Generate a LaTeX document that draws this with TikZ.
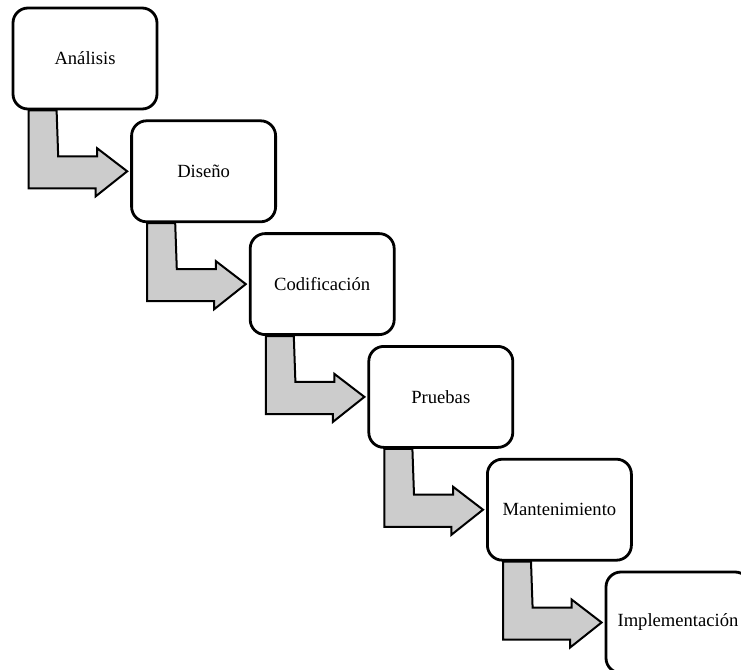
\documentclass[tikz,border=0pt]{standalone}
\usepackage{fontspec}
\setmainfont{Liberation Serif}
\usetikzlibrary{calc}
\begin{document}
\begin{tikzpicture}[x=0.5pt,y=-0.5pt,
    fase/.style={draw, line width=1.4pt, rounded corners=7.5pt, fill=white,
      minimum width=72pt, minimum height=50.5pt, inner sep=0pt,
      font=\fontsize{9.3}{11}\selectfont},
    flecha/.style={draw, line width=1pt, fill=gray!40, line join=miter}]
    \useasboundingbox (0,0) rectangle (741,670);
    % fases
    \node[fase] (analisis) at (85,58.5) {Análisis};
    \node[fase] (diseno) at (203.6,171.3) {Diseño};
    \node[fase] (codificacion) at (322.2,284.1) {Codificación};
    \node[fase] (pruebas) at (440.8,396.9) {Pruebas};
    \node[fase] (mantenimiento) at (559.4,509.7) {Mantenimiento};
    \node[fase] (implementacion) at (678,622.5) {Implementación};
    % flechas
    \draw[flecha] ($(analisis.south west)+(17,0)$) -- ++(0,78) -- ++(67,0) -- ++(0,8)
        -- ($(diseno.west)+(-3,0)$) -- ++(-30,-23) -- ++(0,8) -- ++(-39,0) -- ($(analisis.south west)+(45,0)$) -- cycle;
    \draw[flecha] ($(diseno.south west)+(17,0)$) -- ++(0,78) -- ++(67,0) -- ++(0,8)
        -- ($(codificacion.west)+(-3,0)$) -- ++(-30,-23) -- ++(0,8) -- ++(-39,0) -- ($(diseno.south west)+(45,0)$) -- cycle;
    \draw[flecha] ($(codificacion.south west)+(17,0)$) -- ++(0,78) -- ++(67,0) -- ++(0,8)
        -- ($(pruebas.west)+(-3,0)$) -- ++(-30,-23) -- ++(0,8) -- ++(-39,0) -- ($(codificacion.south west)+(45,0)$) -- cycle;
    \draw[flecha] ($(pruebas.south west)+(17,0)$) -- ++(0,78) -- ++(67,0) -- ++(0,8)
        -- ($(mantenimiento.west)+(-3,0)$) -- ++(-30,-23) -- ++(0,8) -- ++(-39,0) -- ($(pruebas.south west)+(45,0)$) -- cycle;
    \draw[flecha] ($(mantenimiento.south west)+(17,0)$) -- ++(0,78) -- ++(67,0) -- ++(0,8)
        -- ($(implementacion.west)+(-3,0)$) -- ++(-30,-23) -- ++(0,8) -- ++(-39,0) -- ($(mantenimiento.south west)+(45,0)$) -- cycle;
\end{tikzpicture}
\end{document}
